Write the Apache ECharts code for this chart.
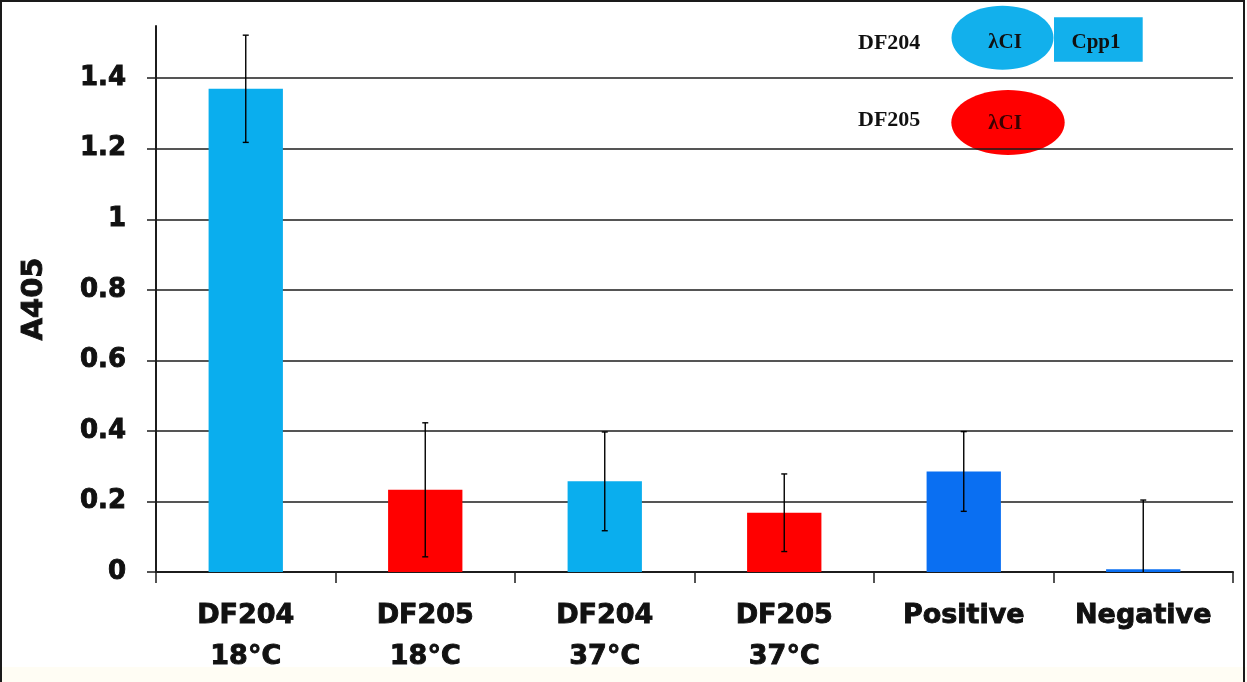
<!DOCTYPE html>
<html>
<head>
<meta charset="utf-8">
<title>A405</title>
<script src="https://cdn.jsdelivr.net/npm/echarts@6/dist/echarts.min.js"></script>
<style>
  html, body { margin: 0; padding: 0; }
  body {
    width: 1247px; height: 682px; overflow: hidden; position: relative;
    background: linear-gradient(#ffffff 0, #ffffff 667px, #fffdf4 667px, #fffdf4 682px);
  }
  #chart { position: absolute; left: 0; top: 0; width: 1247px; height: 682px; }
  #frame {
    position: absolute; left: 0; top: 0; width: 1241px; height: 700px;
    border: 2px solid #1a1a1a; border-bottom: none; pointer-events: none;
  }
</style>
</head>
<body>
<div id="chart"></div>
<div id="frame"></div>
<script>
// Sample groups shown along the x axis
const categories = ['DF204\n18°C', 'DF205\n18°C', 'DF204\n37°C', 'DF205\n37°C', 'Positive', 'Negative'];
// Mean A405 absorbance per group
const meanValues = [1.37, 0.233, 0.257, 0.168, 0.285, 0.008];
// Standard deviation per group (error bar half-length)
const errorValues = [0.152, 0.19, 0.14, 0.11, 0.113, 0.196];
// Bar fill per group
const barColors = ['#0aaeee', '#ff0000', '#0aaeee', '#ff0000', '#0a6ff2', '#0a6ff2'];
// Y axis tick values
const yTicks = [0, 0.2, 0.4, 0.6, 0.8, 1, 1.2, 1.4];

const axisFont = 'DejaVu Sans';
const inkColor = '#111111';
const lineColor = '#1c1c1c';

const chart = echarts.init(document.getElementById('chart'), null, { renderer: 'canvas' });

const barData = meanValues.map((v, i) => ({ value: v, itemStyle: { color: barColors[i] } }));
const errData = meanValues.map((v, i) => [i, v, errorValues[i]]);

function renderErrorBar(params, api) {
  const idx = api.value(0);
  const mean = api.value(1);
  const err = api.value(2);
  const top = api.coord([idx, mean + err]);
  const bottom = api.coord([idx, Math.max(0, mean - err)]);
  const cap = 3;
  const style = { stroke: '#000000', lineWidth: 1.4 };
  const children = [
    { type: 'line', shape: { x1: top[0], y1: top[1], x2: bottom[0], y2: bottom[1] }, style },
    { type: 'line', shape: { x1: top[0] - cap, y1: top[1], x2: top[0] + cap, y2: top[1] }, style }
  ];
  if (mean - err > 0) {
    children.push({ type: 'line', shape: { x1: bottom[0] - cap, y1: bottom[1], x2: bottom[0] + cap, y2: bottom[1] }, style });
  }
  return { type: 'group', children };
}

const serifFont = '"Liberation Serif", "DejaVu Serif", serif';
const lightBlue = '#12b0ec';

const option = {
  animation: false,
  backgroundColor: 'transparent',
  grid: { left: 156, right: 14, top: 26, bottom: 110, containLabel: false },
  xAxis: {
    type: 'category',
    data: categories,
    boundaryGap: true,
    axisLine: { show: true, lineStyle: { color: lineColor, width: 2 } },
    axisTick: { show: true, inside: false, length: 11, alignWithLabel: false, lineStyle: { color: lineColor, width: 1.5 } },
    axisLabel: {
      interval: 0,
      margin: 23,
      fontFamily: axisFont,
      fontWeight: 'bold',
      fontSize: 27,
      lineHeight: 41,
      color: inkColor,
      textBorderColor: inkColor,
      textBorderWidth: 0.9
    },
    splitLine: { show: false }
  },
  yAxis: {
    type: 'value',
    min: 0,
    max: 1.548,
    interval: 0.2,
    name: 'A405',
    nameLocation: 'middle',
    nameGap: 107,
    nameRotate: 90,
    nameTextStyle: {
      fontFamily: axisFont, fontWeight: 'bold', fontSize: 29, color: inkColor,
      textBorderColor: inkColor, textBorderWidth: 0.9
    },
    axisLine: { show: true, lineStyle: { color: lineColor, width: 2 } },
    axisTick: { show: true, inside: false, length: 9, customValues: yTicks, lineStyle: { color: lineColor, width: 1.5 } },
    axisLabel: {
      margin: 30,
      fontFamily: axisFont,
      fontWeight: 'bold',
      fontSize: 26,
      color: inkColor,
      textBorderColor: inkColor,
      textBorderWidth: 0.9,
      showMaxLabel: true,
      formatter: v => (v > 1.5 ? '' : String(v))
    },
    splitLine: { show: true, showMinLine: false, showMaxLine: true, lineStyle: { color: lineColor, width: 1.5 } }
  },
  series: [
    {
      type: 'bar',
      data: barData,
      barWidth: '41.4%',
      z: 2
    },
    {
      type: 'custom',
      data: errData,
      renderItem: renderErrorBar,
      z: 3
    }
  ],
  graphic: [
    { type: 'text', left: 858, top: 32, style: { text: 'DF204', font: 'bold 22px ' + serifFont, fill: '#111' } },
    { type: 'ellipse', shape: { cx: 1002.5, cy: 37.7, rx: 51, ry: 32 }, style: { fill: lightBlue } },
    { type: 'rect', shape: { x: 1054, y: 17.3, width: 88.7, height: 44.4 }, style: { fill: lightBlue } },
    { type: 'text', x: 1005, y: 43, style: { text: 'λCI', font: 'bold 21px ' + serifFont, fill: '#111', align: 'center', verticalAlign: 'middle' } },
    { type: 'text', x: 1096, y: 43, style: { text: 'Cpp1', font: 'bold 21px ' + serifFont, fill: '#111', align: 'center', verticalAlign: 'middle' } },
    { type: 'text', left: 858, top: 109, style: { text: 'DF205', font: 'bold 22px ' + serifFont, fill: '#111' } },
    { type: 'ellipse', shape: { cx: 1008, cy: 122.5, rx: 56.7, ry: 32.5 }, style: { fill: '#ff0000' } },
    { type: 'text', x: 1005, y: 124, style: { text: 'λCI', font: 'bold 21px ' + serifFont, fill: '#3a0000', align: 'center', verticalAlign: 'middle' } }
  ]
};

chart.setOption(option);
</script>
</body>
</html>
